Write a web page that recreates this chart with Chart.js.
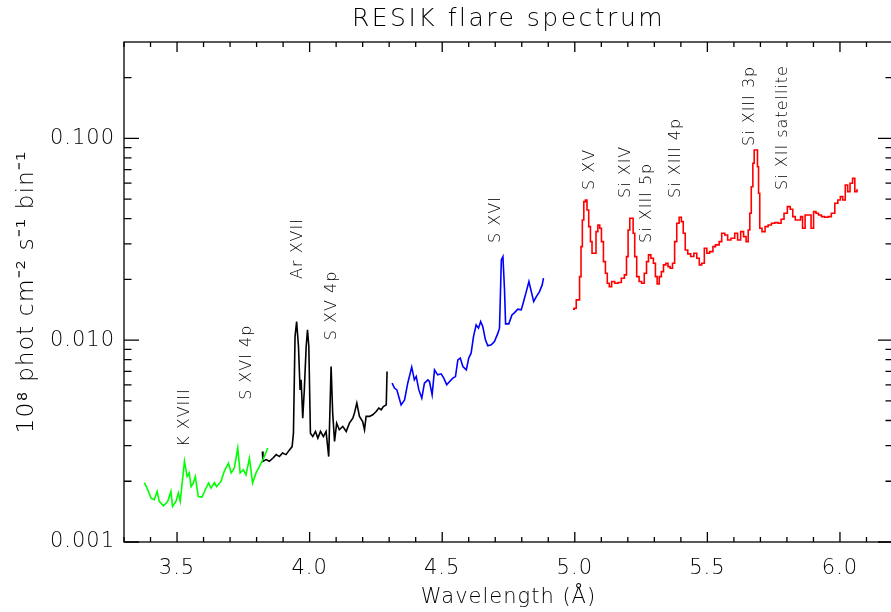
<!DOCTYPE html>
<html>
<head>
<meta charset="utf-8">
<title>RESIK flare spectrum</title>
<script src="https://cdn.jsdelivr.net/npm/chart.js@4.4.1/dist/chart.umd.min.js"></script>
<style>
  html, body { margin: 0; padding: 0; background: #fff; overflow: hidden; }
  #wrap { width: 891px; height: 612px; overflow: hidden; }
</style>
</head>
<body>
<div id="wrap"><canvas id="spectrumChart" width="900" height="612"></canvas></div>
<script>
var fontStack = "'DejaVu Sans ExtraLight', 'DejaVu Sans', sans-serif";
Chart.defaults.font.family = fontStack;
Chart.defaults.font.weight = 200;
Chart.defaults.color = '#000';

var chartTitle = 'RESIK flare spectrum';
var xAxisTitle = 'Wavelength (Å)';
var yAxisTitle = '10⁸ phot cm⁻² s⁻¹ bin⁻¹';

var xTickValues = [3.5, 4.0, 4.5, 5.0, 5.5, 6.0];
var yTickValues = [0.001, 0.010, 0.100];

// channel 4 (green)
var greenWave = [3.377, 3.389, 3.402, 3.414, 3.425, 3.433, 3.449, 3.465, 3.477, 3.483,
  3.496, 3.505, 3.512, 3.528, 3.538, 3.546, 3.553, 3.562, 3.569, 3.580,
  3.594, 3.607, 3.619, 3.628, 3.641, 3.649, 3.666, 3.678, 3.694, 3.704,
  3.716, 3.729, 3.738, 3.750, 3.760, 3.773, 3.785, 3.798, 3.817, 3.829, 3.842];
var greenFlux = [0.00197, 0.00182, 0.00165, 0.00162, 0.00178, 0.00159, 0.00151, 0.00159, 0.00178, 0.00150,
  0.00159, 0.00175, 0.00159, 0.00251, 0.00211, 0.00220, 0.00188, 0.00197, 0.00211, 0.00168,
  0.00167, 0.00182, 0.00196, 0.00185, 0.00197, 0.00188, 0.00200, 0.00224, 0.00246, 0.00220,
  0.00232, 0.00292, 0.00220, 0.00228, 0.00215, 0.00260, 0.00196, 0.00220, 0.00246, 0.00265, 0.00292];

// channel 3 (black)
var blackWave = [3.822, 3.824, 3.836, 3.848, 3.861, 3.874, 3.886, 3.898, 3.911, 3.924,
  3.934, 3.939, 3.945, 3.951, 3.958, 3.964, 3.968, 3.974, 3.980, 3.987,
  3.992, 3.997, 4.003, 4.012, 4.022, 4.031, 4.041, 4.052, 4.062, 4.072,
  4.081, 4.087, 4.094, 4.102, 4.112, 4.125, 4.138, 4.150, 4.163, 4.169,
  4.178, 4.188, 4.200, 4.207, 4.213, 4.226, 4.238, 4.251, 4.261, 4.270,
  4.278, 4.289, 4.292];
var blackFlux = [0.00281, 0.00251, 0.00256, 0.00251, 0.00260, 0.00271, 0.00265, 0.00276, 0.00271, 0.00286,
  0.00297, 0.00346, 0.01042, 0.01236, 0.00930, 0.00567, 0.00636, 0.00411, 0.00567, 0.00930,
  0.01125, 0.00930, 0.00346, 0.00333, 0.00353, 0.00327, 0.00353, 0.00333, 0.00353, 0.00265,
  0.00740, 0.00435, 0.00315, 0.00388, 0.00360, 0.00374, 0.00353, 0.00388, 0.00411, 0.00435,
  0.00488, 0.00419, 0.00395, 0.00360, 0.00419, 0.00419, 0.00427, 0.00443, 0.00461, 0.00452,
  0.00469, 0.00478, 0.00699];

// channel 2 (blue)
var blueWave = [4.311, 4.320, 4.329, 4.336, 4.345, 4.358, 4.370, 4.385, 4.395, 4.402,
  4.412, 4.423, 4.433, 4.446, 4.452, 4.462, 4.471, 4.483, 4.496, 4.506,
  4.517, 4.528, 4.540, 4.550, 4.559, 4.568, 4.578, 4.591, 4.600, 4.609,
  4.618, 4.628, 4.637, 4.645, 4.653, 4.663, 4.672, 4.685, 4.697, 4.710,
  4.716, 4.723, 4.729, 4.735, 4.739, 4.751, 4.763, 4.773, 4.785, 4.798,
  4.807, 4.817, 4.827, 4.836, 4.845, 4.855, 4.867, 4.877, 4.882];
var blueFlux = [0.00612, 0.00579, 0.00567, 0.00526, 0.00478, 0.00506, 0.00612, 0.00735, 0.00636, 0.00660,
  0.00567, 0.00516, 0.00612, 0.00636, 0.00624, 0.00536, 0.00713, 0.00673, 0.00681, 0.00648,
  0.00601, 0.00624, 0.00648, 0.00660, 0.00799, 0.00815, 0.00740, 0.00713, 0.00815, 0.00862,
  0.01042, 0.01190, 0.01147, 0.01236, 0.01168, 0.01003, 0.00937, 0.00948, 0.00984, 0.01083,
  0.01147, 0.02498, 0.02594, 0.01775, 0.01204, 0.01204, 0.01334, 0.01369, 0.01424, 0.01413,
  0.01553, 0.01740, 0.01951, 0.01740, 0.01553, 0.01644, 0.01740, 0.01878, 0.02027];

// channel 1 (red)
var redWave = [4.993, 5.003, 5.008, 5.015, 5.021, 5.026, 5.031, 5.037, 5.043, 5.049,
  5.056, 5.062, 5.068, 5.077, 5.083, 5.091, 5.097, 5.104, 5.112, 5.119,
  5.126, 5.134, 5.144, 5.157, 5.169, 5.182, 5.192, 5.198, 5.204, 5.211,
  5.217, 5.223, 5.229, 5.238, 5.247, 5.257, 5.267, 5.274, 5.282, 5.292,
  5.301, 5.307, 5.314, 5.323, 5.330, 5.339, 5.348, 5.355, 5.364, 5.373,
  5.380, 5.389, 5.398, 5.406, 5.412, 5.421, 5.431, 5.443, 5.455, 5.465,
  5.474, 5.483, 5.494, 5.502, 5.515, 5.527, 5.534, 5.540, 5.549, 5.559,
  5.572, 5.581, 5.597, 5.609, 5.619, 5.632, 5.641, 5.651, 5.657, 5.663,
  5.668, 5.675, 5.678, 5.687, 5.691, 5.695, 5.700, 5.712, 5.723, 5.735,
  5.748, 5.760, 5.773, 5.783, 5.795, 5.808, 5.817, 5.827, 5.836, 5.848,
  5.855, 5.863, 5.874, 5.886, 5.896, 5.905, 5.914, 5.924, 5.936, 5.949,
  5.961, 5.974, 5.987, 5.997, 6.006, 6.015, 6.025, 6.033, 6.043, 6.052,
  6.060, 6.068];
var redFlux = [0.01424, 0.01440, 0.01583, 0.01583, 0.02064, 0.02907, 0.03940, 0.04854, 0.04950, 0.04416,
  0.03650, 0.03077, 0.02696, 0.02696, 0.03448, 0.03722, 0.03585, 0.03077, 0.02450, 0.02146,
  0.01915, 0.01842, 0.01951, 0.01915, 0.01929, 0.02027, 0.02105, 0.02594, 0.03516, 0.04018,
  0.04018, 0.03386, 0.02594, 0.02064, 0.01951, 0.01915, 0.02146, 0.02450, 0.02645, 0.02547,
  0.02406, 0.02064, 0.01900, 0.02064, 0.02186, 0.02360, 0.02406, 0.02314, 0.02272, 0.02406,
  0.03077, 0.03795, 0.04064, 0.03865, 0.03386, 0.02799, 0.02675, 0.02596, 0.02696, 0.02547,
  0.02360, 0.02406, 0.02854, 0.02696, 0.02746, 0.02907, 0.02964, 0.02964, 0.03077, 0.03386,
  0.03321, 0.03137, 0.03199, 0.03386, 0.03137, 0.03448, 0.03258, 0.03077, 0.03516, 0.04254,
  0.05759, 0.07519, 0.08750, 0.08750, 0.07233, 0.05342, 0.03585, 0.03448, 0.03650, 0.03722,
  0.03795, 0.03821, 0.03795, 0.03972, 0.04254, 0.04587, 0.04452, 0.04092, 0.03940, 0.03940,
  0.04092, 0.03585, 0.04172, 0.04172, 0.03585, 0.04331, 0.04254, 0.04172, 0.04092, 0.04064,
  0.04092, 0.04254, 0.04767, 0.04950, 0.05140, 0.04950, 0.05872, 0.05440, 0.05987, 0.06339,
  0.05440, 0.05546];

// line identifications, anchored at the start of the rotated text
var lineNames = ['K XVIII', 'S XVI 4p', 'Ar XVII', 'S XV 4p', 'S XVI', 'S XV', 'Si XIV',
  'Si XIII 5p', 'Si XIII 4p', 'Si XIII 3p', 'Si XII satellite'];
var lineWave = [3.531, 3.762, 3.954, 4.083, 4.701, 5.056, 5.192, 5.271, 5.381, 5.660, 5.785];
var lineFlux = [0.00296, 0.00506, 0.0201, 0.0100, 0.0303, 0.0555, 0.0506, 0.0303, 0.0506, 0.0916, 0.0555];

function toPoints(waves, fluxes) {
    return waves.map((w, i) => ({ x: w, y: fluxes[i] }));
}

var channels = [
    { wave: greenWave, flux: greenFlux, color: '#00ff00', stepped: false },
    { wave: blackWave, flux: blackFlux, color: '#000000', stepped: false },
    { wave: blueWave, flux: blueFlux, color: '#0000ff', stepped: false },
    { wave: redWave, flux: redFlux, color: '#ff0000', stepped: 'middle' }
];

var datasets = channels.map(ch => ({
    data: toPoints(ch.wave, ch.flux),
    borderColor: ch.color,
    borderWidth: 1.6,
    pointRadius: 0,
    stepped: ch.stepped,
    tension: 0
}));

// wider spacing for all text drawn by the chart
var textSpacing = {
    id: 'textSpacing',
    beforeDraw(chart) {
        chart.ctx.letterSpacing = '1px';
    }
};

// box with inward ticks on all four sides, plus title and line labels
var idlBox = {
    id: 'idlBox',
    afterDraw(chart) {
        var ctx = chart.ctx;
        var a = chart.chartArea;
        var xs = chart.scales.x;
        var ys = chart.scales.y;
        ctx.save();
        ctx.strokeStyle = '#000';
        ctx.lineWidth = 1.3;
        ctx.strokeRect(a.left, a.top, a.right - a.left, a.bottom - a.top);

        ctx.beginPath();
        for (var i = 33; i <= 62; i++) {
            var px = xs.getPixelForValue(i / 10);
            var len = (i % 5 === 0) ? 10 : 5;
            ctx.moveTo(px, a.bottom);
            ctx.lineTo(px, a.bottom - len);
            ctx.moveTo(px, a.top);
            ctx.lineTo(px, a.top + len);
        }
        for (var e = -3; e <= -1; e++) {
            for (var k = 1; k <= 9; k++) {
                var v = k * Math.pow(10, e);
                if (v > ys.max) break;
                var py = ys.getPixelForValue(v);
                var tl = (k === 1) ? 15 : 7.5;
                ctx.moveTo(a.left, py);
                ctx.lineTo(a.left + tl, py);
                ctx.moveTo(a.right, py);
                ctx.lineTo(a.right - tl, py);
            }
        }
        ctx.stroke();

        ctx.fillStyle = '#000';
        ctx.letterSpacing = '2.5px';
        ctx.font = '200 25px ' + fontStack;
        ctx.textAlign = 'center';
        ctx.textBaseline = 'middle';
        ctx.fillText(chartTitle, (a.left + a.right) / 2, 19);

        ctx.letterSpacing = '1px';
        ctx.font = '200 16px ' + fontStack;
        ctx.textAlign = 'left';
        lineNames.forEach((name, i) => {
            var x = xs.getPixelForValue(lineWave[i]);
            var y = ys.getPixelForValue(lineFlux[i]);
            ctx.save();
            ctx.translate(x, y);
            ctx.rotate(-Math.PI / 2);
            ctx.fillText(name, 0, 0);
            ctx.restore();
        });
        ctx.restore();
    }
};

var ctx = document.getElementById('spectrumChart').getContext('2d');
var spectrumChart = new Chart(ctx, {
    type: 'line',
    data: { datasets: datasets },
    options: {
        responsive: false,
        animation: false,
        devicePixelRatio: 1,
        layout: { padding: { top: 42, right: 7, left: 0, bottom: 0 } },
        plugins: {
            legend: { display: false },
            tooltip: { enabled: false }
        },
        scales: {
            x: {
                type: 'linear',
                min: 3.3,
                max: 6.2,
                afterFit: function (scale) { scale.height = 70; },
                afterBuildTicks: function (scale) {
                    scale.ticks = xTickValues.map(v => ({ value: v }));
                },
                grid: { display: false, drawTicks: false },
                border: { display: false },
                ticks: {
                    autoSkip: false,
                    maxRotation: 0,
                    minRotation: 0,
                    padding: 14,
                    font: { size: 21 },
                    callback: function (value) { return value.toFixed(1); }
                },
                title: {
                    display: true,
                    text: xAxisTitle,
                    font: { size: 21 },
                    padding: { top: 0, bottom: 2 }
                }
            },
            y: {
                type: 'logarithmic',
                min: 0.001,
                max: 0.3,
                afterFit: function (scale) { scale.width = 124; },
                afterBuildTicks: function (scale) {
                    scale.ticks = yTickValues.map(v => ({ value: v }));
                },
                grid: { display: false, drawTicks: false },
                border: { display: false },
                ticks: {
                    autoSkip: false,
                    padding: 9,
                    font: { size: 21 },
                    callback: function (value) { return value.toFixed(3); }
                },
                title: {
                    display: true,
                    text: yAxisTitle,
                    font: { size: 23.5 },
                    padding: { top: 13, bottom: 0 }
                }
            }
        }
    },
    plugins: [textSpacing, idlBox]
});
</script>
</body>
</html>
